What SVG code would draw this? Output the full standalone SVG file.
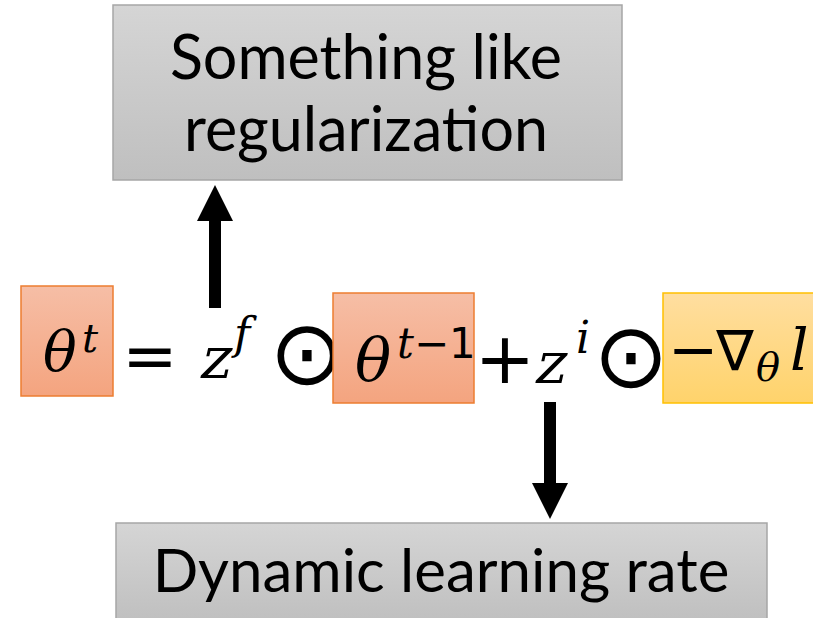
<svg xmlns="http://www.w3.org/2000/svg" width="813" height="618" viewBox="0 0 813 618">
<defs>
<linearGradient id="gGray" x1="0" y1="0" x2="0" y2="1"><stop offset="0" stop-color="#d5d5d5"/><stop offset="1" stop-color="#bfbfbf"/></linearGradient>
<linearGradient id="gOrange" x1="0" y1="0" x2="0" y2="1"><stop offset="0" stop-color="#f6bea6"/><stop offset="1" stop-color="#f4a47f"/></linearGradient>
<linearGradient id="gYellow" x1="0" y1="0" x2="0" y2="1"><stop offset="0" stop-color="#ffdea0"/><stop offset="1" stop-color="#ffd36b"/></linearGradient>
<marker id="head" markerUnits="userSpaceOnUse" markerWidth="36" markerHeight="36" viewBox="0 0 36 36" refX="0" refY="18" orient="auto"><path d="M0,0 L36,18 L0,36 Z" fill="#000"/></marker>
</defs>
<style>
.box{fill:url(#gGray);stroke:#a6a6a6;stroke-width:1.5}
.obox{fill:url(#gOrange);stroke:#ed7d31;stroke-width:1.5}
.ybox{fill:url(#gYellow);stroke:#ffc000;stroke-width:1.5}
.lbl{font-family:Lato,"Open Sans",sans-serif;fill:#000;text-anchor:middle}
.mi{font-family:"DejaVu Serif",serif;font-style:italic;fill:#000}
.mz{font-family:"DejaVu Serif",serif;fill:#000}
.mo{font-family:"DejaVu Sans",sans-serif;fill:#000}
.conn{stroke:#000;stroke-width:12;fill:none}
</style>
<g id="node-regularization">
<rect class="box" x="113" y="5" width="509" height="175"/>
<text class="lbl" x="366" y="79" font-size="61">Something like</text>
<text class="lbl" x="366" y="151" font-size="61">regularization</text>
</g>
<g id="node-learning-rate">
<rect class="box" x="116" y="523" width="651" height="100"/>
<text class="lbl" x="441" y="592" font-size="60">Dynamic learning rate</text>
</g>
<g id="node-theta-t">
<rect class="obox" x="21" y="286" width="92" height="110"/>
<text class="mi" x="43" y="371" font-size="56">θ</text>
<text class="mi" x="82" y="352" font-size="40">t</text>
</g>
<g id="node-equals">
<text class="mo" x="150" y="378" font-size="66" text-anchor="middle">=</text>
</g>
<g id="node-zf">
<text class="mz" transform="translate(198,378) skewX(-13)" font-size="58">z</text>
<text class="mi" x="234" y="349" font-size="44">f</text>
</g>
<g id="node-odot1">
<text class="mo" x="307" y="384" font-size="90" text-anchor="middle">⊙</text>
</g>
<g id="node-theta-prev">
<rect class="obox" x="333" y="293" width="141" height="110"/>
<text class="mi" x="355" y="381" font-size="60">θ</text>
<text x="397" y="358" font-size="42"><tspan class="mi">t</tspan><tspan class="mo">−1</tspan></text>
</g>
<g id="node-plus">
<text class="mo" x="505" y="383" font-size="72" text-anchor="middle">+</text>
</g>
<g id="node-zi">
<text class="mz" transform="translate(533,383) skewX(-13)" font-size="58">z</text>
<text class="mi" x="576" y="353" font-size="44">i</text>
</g>
<g id="node-odot2">
<text class="mo" x="631" y="387" font-size="90" text-anchor="middle">⊙</text>
</g>
<g id="node-neg-grad">
<rect class="ybox" x="663" y="293" width="160" height="110"/>
<text class="mo" x="668" y="370" font-size="60">−<tspan dx="-2" font-size="56">∇</tspan></text>
<text class="mi" x="756" y="381" font-size="40">θ</text>
<text class="mi" x="790" y="370" font-size="58">l</text>
</g>
<g id="connectors">
<line class="conn" x1="215" y1="308" x2="215" y2="221" marker-end="url(#head)"/>
<line class="conn" x1="550" y1="402" x2="550" y2="483" marker-end="url(#head)"/>
</g>
</svg>
